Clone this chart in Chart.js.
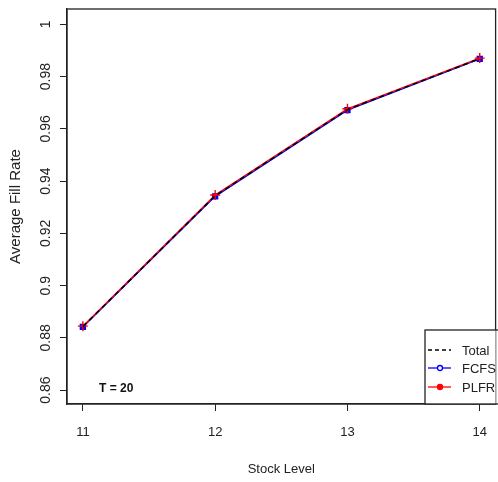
<!DOCTYPE html>
<html>
<head>
<meta charset="utf-8">
<script src="https://cdn.jsdelivr.net/npm/chart.js@4.4.1/dist/chart.umd.min.js"></script>
<style>
  html, body { margin: 0; padding: 0; background: #fff; overflow: hidden; }
  #wrap { position: relative; width: 502px; height: 482px; }
</style>
</head>
<body>
<div id="wrap"><canvas id="chart"></canvas></div>
<script>
// values
const stockLevels = [11, 12, 13, 14];
const totalRate = [0.8843, 0.9344, 0.9674, 0.9869];
const fcfsRate = [0.8842, 0.9342, 0.9672, 0.9868];
const plfrRate = [0.8845, 0.9347, 0.9677, 0.9871];
const xTicks = [11, 12, 13, 14];
const yTicks = [0.86, 0.88, 0.9, 0.92, 0.94, 0.96, 0.98, 1];
const legendItems = ['Total', 'FCFS', 'PLFR'];
const noteText = 'T = 20';

const sans = "'Liberation Sans', Arial, sans-serif";
const ink = '#222';

function toPoints(vals) {
    return stockLevels.map((s, i) => ({ x: s, y: vals[i] }));
}

// box around the plot, the legend and the T label
const extras = {
    id: 'extras',
    afterDraw(chart) {
        const ctx = chart.ctx;
        const a = chart.chartArea;
        ctx.save();
        ctx.strokeStyle = ink;
        ctx.lineWidth = 1.3;
        ctx.strokeRect(a.left, a.top, a.right - a.left, a.bottom - a.top);

        // legend box
        const lx = 425, ly = 330;
        ctx.fillStyle = '#fff';
        ctx.fillRect(lx, ly, a.right - lx, a.bottom - ly);
        ctx.strokeRect(lx, ly, a.right - lx + 5, a.bottom - ly);

        const rows = [350, 368, 387];
        const colors = ['#000', '#0000ff', '#ff0000'];
        legendItems.forEach((label, i) => {
            const y = rows[i];
            ctx.strokeStyle = colors[i];
            ctx.lineWidth = 1.3;
            ctx.setLineDash(i === 0 ? [4, 3] : []);
            ctx.beginPath();
            ctx.moveTo(428, y);
            ctx.lineTo(451, y);
            ctx.stroke();
            ctx.setLineDash([]);
            if (i === 1) {
                ctx.fillStyle = '#fff';
                ctx.beginPath();
                ctx.arc(440, y, 2.5, 0, Math.PI * 2);
                ctx.fill();
                ctx.stroke();
            } else if (i === 2) {
                ctx.fillStyle = colors[i];
                ctx.beginPath();
                ctx.arc(440, y, 3.2, 0, Math.PI * 2);
                ctx.fill();
            }
            ctx.fillStyle = ink;
            ctx.font = '13px ' + sans;
            ctx.textAlign = 'left';
            ctx.textBaseline = 'middle';
            ctx.fillText(label, 462, y + 1);
        });

        ctx.fillStyle = '#111';
        ctx.font = 'bold 12px ' + sans;
        ctx.textAlign = 'left';
        ctx.textBaseline = 'middle';
        ctx.fillText(noteText, 99, 389);
        ctx.restore();
    }
};

new Chart(document.getElementById('chart'), {
    type: 'line',
    data: {
        datasets: [
            {
                label: 'Total',
                data: toPoints(totalRate),
                borderColor: '#000',
                borderWidth: 1.5,
                borderDash: [5, 4],
                pointRadius: 0,
                order: 0
            },
            {
                label: 'PLFR',
                data: toPoints(plfrRate),
                borderColor: '#ff0000',
                borderWidth: 1.4,
                pointStyle: 'cross',
                pointRadius: 5,
                pointBorderWidth: 1.4,
                pointBorderColor: '#ff0000',
                order: 1
            },
            {
                label: 'FCFS',
                data: toPoints(fcfsRate),
                borderColor: '#0000ff',
                borderWidth: 1.4,
                pointStyle: 'rect',
                pointRadius: 3.5,
                pointBackgroundColor: '#0000ff',
                pointBorderColor: '#0000ff',
                order: 2
            }
        ]
    },
    options: {
        responsive: true,
        maintainAspectRatio: false,
        animation: false,
        layout: { padding: { top: 9, right: 1, left: 0, bottom: 0 } },
        plugins: {
            legend: { display: false },
            tooltip: { enabled: false }
        },
        scales: {
            x: {
                type: 'linear',
                min: 10.88,
                max: 14.12,
                afterBuildTicks: (scale) => { scale.ticks = xTicks.map(v => ({ value: v })); },
                afterFit: (scale) => { scale.height = 78; },
                grid: { drawOnChartArea: false, tickLength: 7, color: ink, lineWidth: 1 },
                border: { display: true, color: ink, width: 1.3 },
                ticks: {
                    color: ink,
                    padding: 14,
                    maxRotation: 0,
                    font: { family: sans, size: 13 },
                    callback: (v) => String(v)
                },
                title: {
                    display: true,
                    text: 'Stock Level',
                    color: ink,
                    font: { family: sans, size: 13 },
                    padding: { top: 0, bottom: 5 }
                }
            },
            y: {
                type: 'linear',
                min: 0.8547,
                max: 1.0059,
                afterBuildTicks: (scale) => { scale.ticks = yTicks.map(v => ({ value: v })); },
                afterFit: (scale) => { scale.width = 67; },
                grid: { drawOnChartArea: false, tickLength: 7, color: ink, lineWidth: 1 },
                border: { display: true, color: ink, width: 1.3 },
                ticks: {
                    color: ink,
                    padding: 0,
                    minRotation: 90,
                    maxRotation: 90,
                    crossAlign: 'center',
                    font: { family: sans, size: 14 },
                    callback: (v) => String(+v.toFixed(2))
                },
                title: {
                    display: true,
                    text: 'Average Fill Rate',
                    color: ink,
                    font: { family: sans, size: 15 },
                    padding: { top: 7, bottom: 0 }
                }
            }
        }
    },
    plugins: [extras]
});
</script>
</body>
</html>
